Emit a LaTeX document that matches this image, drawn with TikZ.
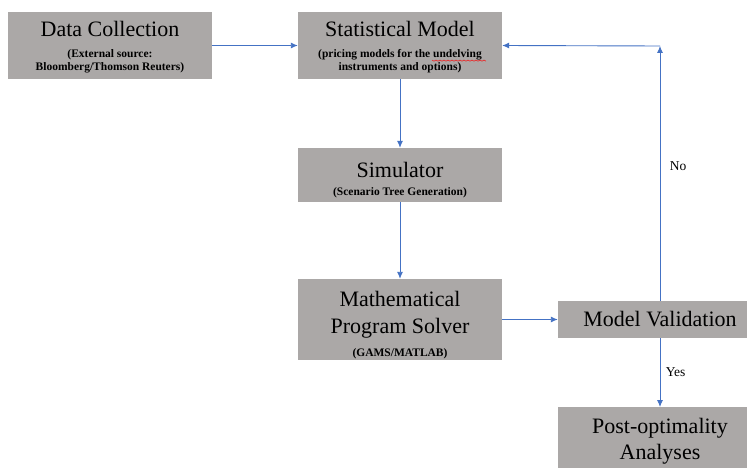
\documentclass[tikz,border=0pt]{standalone}
\usepackage{fontspec}
\setmainfont{Liberation Serif}
\usetikzlibrary{arrows.meta}
\definecolor{boxgray}{RGB}{171,168,167}
\definecolor{linkblue}{RGB}{68,114,196}
\newcommand{\subline}[1]{{\bfseries\fontsize{11.5}{15}\selectfont #1}}
\tikzset{
	stage/.style={fill=boxgray, minimum width=204pt, align=center, inner sep=0pt, font=\fontsize{22}{26}\selectfont},
	link/.style={draw=linkblue, line width=0.9pt, -{Latex[length=7pt,width=6pt]}},
	answer/.style={font=\fontsize{13.5}{15}\selectfont}
}
\begin{document}
\begin{tikzpicture}[x=1pt,y=-1pt]
	\clip (0,0) rectangle (747,468);
	\fill[white] (0,0) rectangle (747,468);
	\node[stage, minimum height=67pt] (data) at (110,45.5) {Data Collection\\[-5pt]
		\subline{(External source:}\\[-13pt]\subline{Bloomberg/Thomson Reuters)}\\[-27pt]};
	\node[stage, minimum height=67pt] (stat) at (400,45.5) {Statistical Model\\[-5pt]
		\subline{(pricing models for the undelving}\\[-13pt]\subline{instruments and options)}\\[-27pt]};
	\node[stage, minimum height=54pt] (sim) at (400,175) {Simulator\\[-8pt]\subline{(Scenario Tree Generation)}\\[-34pt]};
	\node[stage, minimum height=81pt] (mps) at (400,319.5) {Mathematical\\[1pt]Program Solver\\[-3pt]\subline{(GAMS/MATLAB)}\\[-34pt]};
	\node[stage, minimum height=37pt] (val) at (660,319.5) {Model Validation};
	\node[stage, minimum height=81pt, anchor=north] (post) at (660,407) {Post-optimality\\Analyses\\[-9pt]};
	% spelling mark under the word
	\draw[red, line width=0.5pt] (432,60) \foreach \i in {0,...,26} {-- ++(2,{mod(\i,2)==0 ? 1.2 : -1.2})};
	\coordinate (turn) at (660,46);
	\draw[link] (data) -- (stat);
	\draw[link] (stat) -- (sim);
	\draw[link] (sim) -- (mps);
	\draw[link] (mps.east) -- (val.west);
	\draw[link] (val.north) -- (turn) node[answer, pos=0.53, right=6pt] {No};
	\draw[link] (turn) -- (stat.east);
	\draw[link] (val.south) -- (post.north) node[answer, midway, right=2pt] {Yes};
\end{tikzpicture}
\end{document}
